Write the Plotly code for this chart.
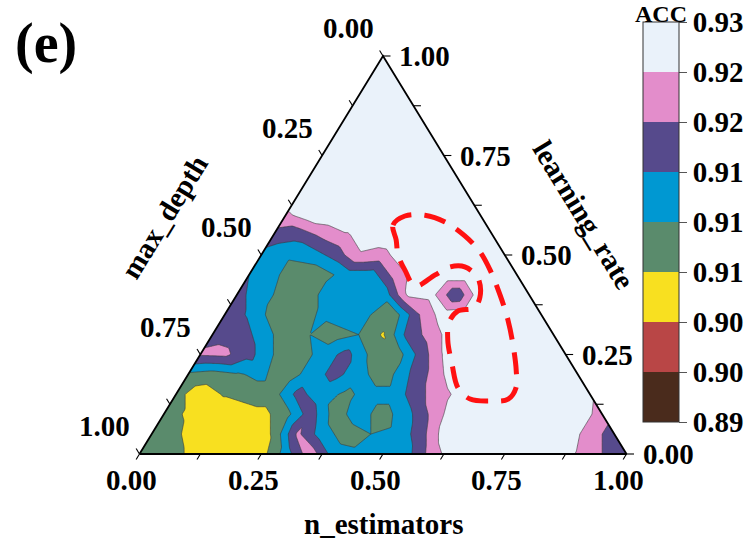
import numpy as np
import plotly.graph_objects as go

# ---------------------------------------------------------------------------
# ACC sampled on a ternary grid (step 0.05).  Each list is one learning_rate
# row; values run over n_estimators = 0, 0.05, ... and max_depth = 1 - n - lr.
# ---------------------------------------------------------------------------
acc_lr00 = [0.907, 0.908, 0.905, 0.902, 0.902, 0.9035, 0.912, 0.922, 0.912, 0.911, 0.911,
            0.913, 0.921, 0.927, 0.927, 0.927, 0.927, 0.927, 0.923, 0.919, 0.915]
acc_lr05 = [0.907, 0.9065, 0.902, 0.902, 0.902, 0.906, 0.920, 0.912, 0.908, 0.910, 0.911,
            0.9165, 0.9255, 0.927, 0.927, 0.927, 0.927, 0.927, 0.921, 0.917]
acc_lr10 = [0.907, 0.905, 0.902, 0.902, 0.904, 0.908, 0.917, 0.908, 0.912, 0.908, 0.913,
            0.920, 0.927, 0.927, 0.927, 0.927, 0.927, 0.927, 0.921]
acc_lr15 = [0.907, 0.903, 0.906, 0.908, 0.908, 0.916, 0.912, 0.909, 0.912, 0.912, 0.918,
            0.922, 0.927, 0.927, 0.927, 0.927, 0.927, 0.9245]
acc_lr20 = [0.909, 0.908, 0.9095, 0.911, 0.907, 0.912, 0.916, 0.912, 0.907, 0.914, 0.920,
            0.927, 0.927, 0.927, 0.927, 0.927, 0.927]
acc_lr25 = [0.9195, 0.920, 0.916, 0.910, 0.907, 0.912, 0.916, 0.909, 0.907, 0.916, 0.924,
            0.927, 0.927, 0.927, 0.927, 0.927]
acc_lr30 = [0.918, 0.917, 0.913, 0.907, 0.910, 0.908, 0.910, 0.905, 0.916, 0.921, 0.927,
            0.927, 0.927, 0.927, 0.927]
acc_lr35 = [0.917, 0.914, 0.908, 0.907, 0.911, 0.913, 0.910, 0.908, 0.919, 0.926, 0.927,
            0.927, 0.927, 0.927]
acc_lr40 = [0.916, 0.912, 0.908, 0.908, 0.914, 0.910, 0.911, 0.924, 0.925, 0.915, 0.927,
            0.927, 0.927]
acc_lr45 = [0.9145, 0.911, 0.907, 0.908, 0.912, 0.912, 0.921, 0.926, 0.927, 0.927, 0.927,
            0.927]
acc_lr50 = [0.913, 0.911, 0.912, 0.916, 0.923, 0.922, 0.927, 0.927, 0.927, 0.927, 0.927]
acc_lr55 = [0.917, 0.916, 0.920, 0.923, 0.926, 0.927, 0.927, 0.927, 0.927, 0.927]
acc_lr60 = [0.9225, 0.926, 0.927, 0.927, 0.927, 0.927, 0.927, 0.927, 0.927]
acc_lr65 = [0.927, 0.927, 0.927, 0.927, 0.927, 0.927, 0.927, 0.927]
acc_lr70 = [0.927, 0.927, 0.927, 0.927, 0.927, 0.927, 0.927]
acc_lr75 = [0.927, 0.927, 0.927, 0.927, 0.927, 0.927]
acc_lr80 = [0.927, 0.927, 0.927, 0.927, 0.927]
acc_lr85 = [0.927, 0.927, 0.927, 0.927]
acc_lr90 = [0.927, 0.927, 0.927]
acc_lr95 = [0.927, 0.927]
acc_lr100 = [0.927]

acc_rows = [acc_lr00, acc_lr05, acc_lr10, acc_lr15, acc_lr20, acc_lr25, acc_lr30,
            acc_lr35, acc_lr40, acc_lr45, acc_lr50, acc_lr55, acc_lr60, acc_lr65,
            acc_lr70, acc_lr75, acc_lr80, acc_lr85, acc_lr90, acc_lr95, acc_lr100]
grid_step = 0.05

# contour levels, colorbar labels and band colours (low -> high)
levels = [0.892, 0.8965, 0.901, 0.9055, 0.910, 0.9145, 0.919, 0.9235, 0.928]
level_labels = ["0.89", "0.90", "0.90", "0.91", "0.91", "0.91", "0.92", "0.92", "0.93"]
band_colors = ["#4a2b1c", "#b94646", "#f8e020", "#5a8b6c", "#0098d2", "#564a8c",
               "#e38dcb", "#eaf2fa"]

# ternary axis ticks
minor_ticks = [k / 8 for k in range(9)]
major_ticks = [0.0, 0.25, 0.5, 0.75, 1.0]
major_labels = ["0.00", "0.25", "0.50", "0.75", "1.00"]

# highlighted region (n_estimators, learning_rate)
hl_n = [0.258, 0.233, 0.246, 0.286, 0.336, 0.394, 0.445, 0.489, 0.541, 0.588, 0.630,
        0.668, 0.690, 0.688, 0.653, 0.610, 0.571, 0.530, 0.490, 0.470, 0.474, 0.503,
        0.502, 0.474, 0.433, 0.403, 0.382, 0.355, 0.314, 0.281]
hl_lr = [0.538, 0.575, 0.598, 0.600, 0.583, 0.548, 0.508, 0.462, 0.399, 0.337, 0.274,
         0.211, 0.166, 0.138, 0.133, 0.138, 0.166, 0.224, 0.286, 0.332, 0.359, 0.367,
         0.394, 0.442, 0.470, 0.470, 0.450, 0.422, 0.462, 0.500]

# ---------------------------------------------------------------------------
# canvas geometry (pixels)
W, H = 751, 543
base_left_px, base_right_px = 139.5, 626.5
base_px, apex_px = 454.0, 56.0
sx = base_right_px - base_left_px      # pixels per cartesian x unit
sy = base_px - apex_px                 # pixels per cartesian y unit
x_range = [-base_left_px / sx, (W - base_left_px) / sx]
y_range = [(base_px - H) / sy, base_px / sy]

FONT = "Liberation Serif, Times New Roman, serif"


def to_xy(n, lr):
    """ternary (n_estimators, learning_rate) -> cartesian; max_depth is implied"""
    n = np.asarray(n, dtype=float)
    lr = np.asarray(lr, dtype=float)
    return n + lr / 2.0, lr


# ---------------------------------------------------------------------------
# linear interpolation of the triangulated grid onto a cartesian mesh
nseg = int(round(1 / grid_step))
Z = np.zeros((nseg + 1, nseg + 1))
for j, row in enumerate(acc_rows):
    Z[j, :len(row)] = row

gx = np.linspace(-0.01, 1.01, 400)
gy = np.linspace(-0.01, 1.01, 340)
XX, YY = np.meshgrid(gx, gy)
v = np.clip(YY / grid_step, 0, nseg)
u = np.clip((XX - YY / 2) / grid_step, 0, None)
u = np.minimum(u, nseg - v)
ii = np.minimum(np.floor(u).astype(int), nseg - 1)
jj = np.minimum(np.floor(v).astype(int), nseg - 1)
a = u - ii
b = v - jj
z_low = Z[jj, ii] * (1 - a - b) + Z[jj, ii + 1] * a + Z[jj + 1, ii] * b
z_up = Z[jj + 1, ii + 1] * (a + b - 1) + Z[jj, ii + 1] * (1 - b) + Z[jj + 1, ii] * (1 - a)
zz = np.where(a + b <= 1, z_low, z_up)

# stepped colour scales
fill_colors = [band_colors[0]] + band_colors + [band_colors[-1]]   # bands incl. outside
nf = len(fill_colors)
fill_scale = []
for k, c in enumerate(fill_colors):
    lo = 0.0 if k == 0 else (k - 0.5) / (nf - 1)
    hi = 1.0 if k == nf - 1 else (k + 0.5) / (nf - 1)
    fill_scale += [[lo, c], [hi, c]]

nb = len(band_colors)
bar_scale = []
for k, c in enumerate(band_colors):
    bar_scale += [[k / nb, c], [(k + 1) / nb, c]]

fig = go.Figure()

fig.add_trace(go.Contour(
    x=gx, y=gy, z=zz,
    autocontour=False,
    contours=dict(start=levels[0], end=levels[-1], size=levels[1] - levels[0],
                  coloring="fill", showlines=True),
    colorscale=fill_scale,
    line=dict(color="#3a3a3a", width=0.6),
    showscale=False, hoverinfo="skip",
))

# white mask outside the triangle
cx, cy = to_xy([0, 0, 1, 0], [0, 1, 0, 0])
ext = 3.0
rx = [x_range[0] - ext, x_range[1] + ext, x_range[1] + ext, x_range[0] - ext, x_range[0] - ext]
ry = [y_range[0] - ext, y_range[0] - ext, y_range[1] + ext, y_range[1] + ext, y_range[0] - ext]
fig.add_trace(go.Scatter(
    x=rx + list(cx) + [rx[0]], y=ry + list(cy) + [ry[0]],
    mode="lines", fill="toself", fillcolor="white", line=dict(width=0, color="white"),
    hoverinfo="skip", showlegend=False,
))

# triangle frame
fig.add_trace(go.Scatter(
    x=list(cx), y=list(cy), mode="lines",
    line=dict(color="black", width=1.8), hoverinfo="skip", showlegend=False,
))

# tick marks (direction given in pixels, converted to data units)
tick_len = 6.5
tx, ty = [], []
for t in minor_ticks:
    # n_estimators: bottom edge, ticks run down-left
    x0, y0 = to_xy(t, 0.0)
    tx += [float(x0), float(x0) - tick_len * 0.52 / sx, None]
    ty += [float(y0), float(y0) - tick_len * 0.854 / sy, None]
    # learning_rate: right edge, ticks run right
    x0, y0 = to_xy(1 - t, t)
    tx += [float(x0), float(x0) + 7.5 / sx, None]
    ty += [float(y0), float(y0), None]
    # max_depth: left edge, ticks run up-left
    x0, y0 = to_xy(0.0, 1 - t)
    tx += [float(x0), float(x0) - tick_len * 0.52 / sx, None]
    ty += [float(y0), float(y0) + tick_len * 0.854 / sy, None]
fig.add_trace(go.Scatter(x=tx, y=ty, mode="lines", line=dict(color="black", width=1.1),
                         hoverinfo="skip", showlegend=False))

# highlighted region
hx, hy = to_xy(hl_n + hl_n[:1], hl_lr + hl_lr[:1])
fig.add_trace(go.Scatter(
    x=hx, y=hy, mode="lines",
    line=dict(color="#ff1111", width=5, dash="22px,13px", shape="spline", smoothing=1.0),
    hoverinfo="skip", showlegend=False,
))

# colorbar
fig.add_trace(go.Scatter(
    x=[None], y=[None], mode="markers", hoverinfo="skip", showlegend=False,
    marker=dict(color=[levels[0]], colorscale=bar_scale, cmin=levels[0], cmax=levels[-1],
                showscale=True,
                colorbar=dict(
                    x=642.7 / W, xanchor="left", xpad=0,
                    y=1 - 222 / H, yanchor="middle", ypad=0,
                    len=400, lenmode="pixels", thickness=36, thicknessmode="pixels",
                    outlinewidth=1, outlinecolor="#333333",
                    tickmode="array", tickvals=levels, ticktext=level_labels,
                    ticks="outside", ticklen=8, tickwidth=1, tickcolor="#555555",
                    tickfont=dict(family=FONT, size=29, color="black", weight="bold"),
                )),
))

# tick labels
ann = []
lab_font = dict(family=FONT, size=29, color="black", weight="bold")
for t, s in zip(major_ticks, major_labels):
    x0, y0 = to_xy(t, 0.0)
    ann.append(dict(x=float(x0), y=float(y0), xref="x", yref="y", text=s, showarrow=False,
                    xanchor="center", yanchor="middle", xshift=-8, yshift=-26, font=lab_font))
    x0, y0 = to_xy(1 - t, t)
    ann.append(dict(x=float(x0), y=float(y0), xref="x", yref="y", text=s, showarrow=False,
                    xanchor="left", yanchor="middle", xshift=14, yshift=0, font=lab_font))
    x0, y0 = to_xy(0.0, 1 - t)
    ann.append(dict(x=float(x0), y=float(y0), xref="x", yref="y", text=s, showarrow=False,
                    xanchor="center", yanchor="middle", xshift=-35, yshift=28, font=lab_font))

# axis titles
ann.append(dict(x=383 / W, y=1 - 524 / H, xref="paper", yref="paper", text="n_estimators",
                showarrow=False, xanchor="center", yanchor="middle", font=lab_font))
ang = float(np.degrees(np.arctan2(sy, sx / 2)))
ann.append(dict(x=164 / W, y=1 - 217 / H, xref="paper", yref="paper", text="max_depth",
                showarrow=False, xanchor="center", yanchor="middle", textangle=-ang,
                font=lab_font))
ann.append(dict(x=584 / W, y=1 - 215 / H, xref="paper", yref="paper", text="learning_rate",
                showarrow=False, xanchor="center", yanchor="middle", textangle=ang,
                font=lab_font))
# colorbar title
ann.append(dict(x=661 / W, y=1.0, xref="paper", yref="paper", text="ACC",
                showarrow=False, xanchor="center", yanchor="top", borderpad=0,
                font=dict(family=FONT, size=24, color="black", weight="bold")))
# panel tag
ann.append(dict(x=46 / W, y=1 - 43 / H, xref="paper", yref="paper", text="(e)",
                showarrow=False, xanchor="center", yanchor="middle",
                font=dict(family=FONT, size=56, color="black", weight="bold")))

fig.update_layout(
    width=W, height=H, margin=dict(l=0, r=0, t=0, b=0),
    paper_bgcolor="white", plot_bgcolor="white",
    xaxis=dict(range=x_range, visible=False, fixedrange=True),
    yaxis=dict(range=y_range, visible=False, fixedrange=True),
    showlegend=False, annotations=ann,
)

fig.write_html("out.html")
